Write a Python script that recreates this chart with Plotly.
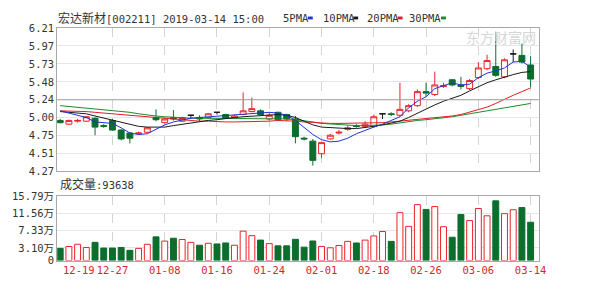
import plotly.graph_objects as go

# ---------------- data ----------------
dates = ["12-19","12-20","12-21","12-24","12-25","12-26","12-27","12-28",
         "01-02","01-03","01-04","01-07","01-08","01-09","01-10","01-11",
         "01-14","01-15","01-16","01-17","01-18","01-21","01-22","01-23",
         "01-24","01-25","01-28","01-29","01-30","01-31","02-01","02-11",
         "02-12","02-13","02-14","02-15","02-18","02-19","02-20","02-21",
         "02-22","02-25","02-26","02-27","02-28","03-01","03-04","03-05",
         "03-06","03-07","03-08","03-11","03-12","03-13","03-14"]

opens  = [4.96,4.91,4.95,4.95,4.99,4.89,4.96,4.83,4.79,4.78,4.80,5.00,4.93,5.00,4.95,5.03,
          5.00,5.00,5.07,5.04,4.99,5.04,5.08,5.09,4.98,5.07,5.04,4.98,4.72,4.68,4.51,4.71,
          4.79,4.84,4.89,4.88,4.88,5.05,5.05,5.03,5.09,5.16,5.35,5.31,5.42,5.51,5.44,5.39,
          5.54,5.66,5.69,5.55,5.86,5.84,5.71]
highs  = [4.98,4.97,4.98,5.02,5.00,4.91,4.98,4.84,4.80,4.81,4.87,5.11,5.00,5.10,5.01,5.03,
          5.03,5.06,5.07,5.05,5.04,5.34,5.27,5.11,5.07,5.08,5.05,5.02,4.74,4.71,4.67,4.78,
          4.83,4.89,4.91,4.95,5.04,5.05,5.07,5.47,5.18,5.38,5.47,5.62,5.47,5.52,5.55,5.52,
          5.75,5.85,6.16,5.80,5.92,6.00,5.83]
lows   = [4.92,4.90,4.93,4.94,4.76,4.86,4.82,4.69,4.65,4.77,4.79,4.95,4.92,4.96,4.94,4.99,
          4.95,4.99,5.04,4.98,4.98,5.03,5.07,5.03,4.96,4.96,4.95,4.65,4.69,4.35,4.45,4.70,
          4.77,4.82,4.86,4.86,4.86,4.98,5.02,5.01,5.07,5.14,5.28,5.29,5.40,5.42,5.38,5.37,
          5.52,5.64,5.55,5.53,5.75,5.73,5.41]
closes = [4.93,4.96,4.96,5.01,4.87,4.88,4.83,4.71,4.72,4.79,4.86,4.97,4.98,4.98,5.00,5.03,
          4.98,5.05,5.07,4.99,5.02,5.09,5.12,5.04,5.03,4.97,4.98,4.74,4.71,4.42,4.66,4.76,
          4.80,4.86,4.88,4.91,5.01,5.05,5.04,5.11,5.16,5.35,5.33,5.44,5.43,5.44,5.42,5.50,
          5.67,5.77,5.57,5.78,5.86,5.75,5.52]
candle_kind = ["dn","up","up","up","dn","dn","dn","dn","dn","up","up","dn","up","dn","up","flat",
               "dn","up","flat","dn","up","up","up","dn","up","dn","dn","dn","dn","dn","up","up",
               "up","up","dn","up","up","flat","dn","up","up","up","dn","up","up","dn","dn","up",
               "up","up","dn","up","flat","dn","dn"]

volumes = [29800,34400,39800,32000,44500,30500,30500,32000,25000,29800,39800,57900,47600,54600,51500,44500,
           37500,42200,40600,43000,37500,71900,60900,50000,41400,35900,35900,52000,32800,47800,34400,31200,
           36800,46900,43000,50000,60200,71000,46900,117000,83600,136700,125000,132000,82800,57000,112500,97700,
           127300,109400,146000,114800,124200,129600,93638]
vol_kind = ["dn","up","up","up","dn","dn","dn","dn","dn","up","up","dn","up","dn","up","up",
            "dn","up","dn","dn","up","up","up","dn","up","dn","dn","dn","dn","dn","up","up",
            "up","up","dn","up","up","up","dn","up","up","up","dn","up","up","dn","dn","up",
            "up","up","dn","up","up","dn","dn"]

ma5  = [5.09,5.06,5.03,5.00,4.94,4.93,4.92,4.86,4.79,4.77,4.78,4.84,4.90,4.94,4.97,4.99,
        5.00,5.01,5.02,5.03,5.03,5.05,5.06,5.07,5.07,5.06,5.03,4.96,4.87,4.77,4.70,4.67,
        4.68,4.72,4.78,4.83,4.87,4.91,4.96,5.01,5.13,5.22,5.28,5.39,5.43,5.47,5.44,5.45,
        5.54,5.60,5.63,5.67,5.75,5.76,5.68]
ma10 = [5.08,5.07,5.06,5.05,5.02,4.99,4.96,4.93,4.90,4.88,4.87,4.87,4.87,4.89,4.91,4.93,
        4.95,4.96,4.97,4.99,5.00,5.01,5.02,5.03,5.04,5.04,5.03,5.00,4.95,4.90,4.87,4.86,
        4.85,4.85,4.85,4.86,4.88,4.90,4.92,4.95,5.00,5.06,5.12,5.17,5.22,5.26,5.30,5.36,
        5.42,5.47,5.51,5.55,5.58,5.61,5.62]
ma20 = [5.09,5.09,5.08,5.08,5.07,5.06,5.05,5.04,5.03,5.01,5.00,4.99,4.98,4.97,4.96,4.96,
        4.95,4.95,4.94,4.94,4.94,4.94,4.94,4.95,4.95,4.96,4.96,4.95,4.94,4.93,4.93,4.92,
        4.92,4.92,4.92,4.92,4.92,4.93,4.94,4.95,4.96,4.97,4.98,4.99,5.00,5.02,5.04,5.07,
        5.10,5.14,5.19,5.25,5.30,5.35,5.40]
ma30 = [5.16,5.15,5.14,5.13,5.12,5.11,5.10,5.08,5.07,5.05,5.03,5.02,5.01,5.00,4.99,4.99,
        4.99,4.99,4.98,4.98,4.98,4.98,4.98,4.98,4.98,4.98,4.98,4.97,4.96,4.94,4.92,4.91,
        4.90,4.89,4.89,4.89,4.89,4.90,4.91,4.93,4.94,4.96,4.97,4.98,4.99,5.01,5.03,5.05,
        5.06,5.09,5.11,5.13,5.15,5.17,5.19]

price_tick_text = ["4.27","4.51","4.75","5.00","5.24","5.48","5.73","5.97","6.21"]
vol_tick_vals = [0, 31000, 73300, 115600, 157900]
vol_tick_text = ["0", "3.10万", "7.33万", "11.56万", "15.79万"]
title_cn = "宏达新材"
title_rest = "[002211] 2019-03-14 15:00"
volume_cn = "成交量"
volume_rest = ":93638"
watermark = "东方财富网"

# ---------------- styling ----------------
W, H = 600, 286
RED = "#e8242a"
GREEN = "#0b6e2c"
BLUE = "#2233d6"
BLACK = "#1a1a1a"
MA20C = "#e02020"
MA30C = "#1d8a2c"
XLAB = "#d9262c"
MONO = "DejaVu Sans Mono, Noto Sans CJK SC, monospace"
CJK = "Noto Sans CJK SC"
FS = 10.5

def px(x):
    return x / W

def py(y):
    return 1 - y / H

def cjk(s, size=12):
    return '<span style="font-family:%s;font-size:%spx">%s</span>' % (CJK, size, s)

x_dom = [px(58), px(546)]
price_dom = [py(172.7), py(23)]
vol_dom = [py(265.7), py(198.3)]
xr = [-0.34, 54.93]
p_lo, p_hi = 4.27, 6.21
price_tick_vals = [p_lo + k * (p_hi - p_lo) / 8 for k in range(9)]

idx = list(range(len(dates)))
fig = go.Figure()

def add_candles(kind, line_color, fill_color):
    keep = [candle_kind[i] == kind for i in idx]
    pick = lambda arr: [v if k else None for v, k in zip(arr, keep)]
    fig.add_trace(go.Candlestick(
        x=idx, open=pick(opens), high=pick(highs), low=pick(lows), close=pick(closes),
        increasing=dict(line=dict(color=line_color, width=1), fillcolor=fill_color),
        decreasing=dict(line=dict(color=line_color, width=1), fillcolor=fill_color),
        whiskerwidth=0, xaxis="x", yaxis="y", hoverinfo="skip"))

add_candles("up", RED, "#ffffff")
add_candles("dn", GREEN, GREEN)
add_candles("flat", BLACK, BLACK)

for vals, col in [(ma30, MA30C), (ma20, MA20C), (ma10, BLACK), (ma5, BLUE)]:
    fig.add_trace(go.Scatter(x=idx, y=vals, mode="lines",
                             line=dict(color=col, width=1), xaxis="x", yaxis="y",
                             hoverinfo="skip"))

fig.add_trace(go.Bar(
    x=idx, y=volumes, xaxis="x2", yaxis="y2",
    marker=dict(color=["#ffffff" if k == "up" else GREEN for k in vol_kind],
                line=dict(color=[RED if k == "up" else GREEN for k in vol_kind], width=1)),
    hoverinfo="skip"))

grid_idx = list(range(6, len(dates), 6))
label_idx = list(range(6, len(dates), 6))   # first label (idx 0) drawn left-aligned below

common_x = dict(range=xr, domain=x_dom, showline=True, mirror=True, linecolor="#a8a8a8",
                linewidth=1, showgrid=False, zeroline=False, fixedrange=True,
                minor=dict(tickmode="array", tickvals=grid_idx, showgrid=True,
                           gridcolor="#d4d4d4", griddash="dash", gridwidth=1, ticks=""))

fig.update_layout(
    width=W, height=H, margin=dict(l=0, r=0, t=0, b=0),
    paper_bgcolor="white", plot_bgcolor="white", showlegend=False,
    bargap=0.32, boxgap=0.32, boxgroupgap=0,
    font=dict(family=MONO, size=FS, color="#333"),
    xaxis=dict(**common_x, anchor="y", showticklabels=False, ticks="",
               rangeslider=dict(visible=False)),
    yaxis=dict(domain=price_dom, range=[p_lo, p_hi], tickmode="array",
               tickvals=price_tick_vals, ticktext=price_tick_text,
               showgrid=True, gridcolor="#e6e6e6", gridwidth=1, zeroline=False,
               showline=True, mirror=True, linecolor="#a8a8a8", ticks="",
               tickfont=dict(size=FS, color="#333"), anchor="x", fixedrange=True),
    xaxis2=dict(**common_x, anchor="y2", tickmode="array", tickvals=label_idx,
                ticktext=[dates[i] for i in label_idx], ticks="",
                tickfont=dict(size=FS, color=XLAB)),
    yaxis2=dict(domain=vol_dom, range=[0, vol_tick_vals[-1]], tickmode="array",
                tickvals=vol_tick_vals, ticktext=vol_tick_text,
                showgrid=True, gridcolor="#e6e6e6", gridwidth=1, zeroline=False,
                showline=True, mirror=True, linecolor="#a8a8a8", ticks="",
                tickfont=dict(size=FS, color="#333"), anchor="x2", fixedrange=True),
)

# first date label, kept inside the panel like the reference
fig.add_annotation(text=dates[0], xref="x2", yref="paper", x=0, y=py(276),
                   xanchor="left", yanchor="middle", xshift=1, showarrow=False,
                   font=dict(size=FS, color=XLAB, family=MONO))

# darker middle line of the price panel
fig.add_shape(type="line", xref="paper", yref="y", x0=x_dom[0], x1=x_dom[1],
              y0=price_tick_vals[4], y1=price_tick_vals[4],
              line=dict(color="#a0a0a0", width=1))

# title and legend
fig.add_annotation(text=cjk(title_cn) + title_rest, xref="paper", yref="paper",
                   x=px(57), y=py(12.5), xanchor="left", yanchor="middle", showarrow=False,
                   font=dict(size=FS, color="#333", family=MONO))
legend_items = [("5PMA", 285, 312, BLUE), ("10PMA", 325, 358, BLACK),
                ("20PMA", 370, 403, MA20C), ("30PMA", 413, 447, MA30C)]
for name, tx, bx, col in legend_items:
    fig.add_annotation(text=name, xref="paper", yref="paper", x=px(tx), y=py(12.5),
                       xanchor="left", yanchor="middle", showarrow=False,
                       font=dict(size=FS, color="#333", family=MONO))
    fig.add_shape(type="rect", xref="paper", yref="paper", x0=px(bx), x1=px(bx + 5),
                  y0=py(14), y1=py(11), line=dict(width=0), fillcolor=col)

# watermark
fig.add_annotation(text=watermark, xref="paper", yref="paper", x=px(545), y=py(32),
                   xanchor="right", yanchor="middle", showarrow=False,
                   font=dict(size=14, color="#d6d6d6", family=CJK))

fig.add_annotation(text=cjk(volume_cn) + volume_rest, xref="paper", yref="paper",
                   x=px(59), y=py(185), xanchor="left", yanchor="middle", showarrow=False,
                   font=dict(size=FS, color="#333", family=MONO))

fig.write_html("out.html",
               post_script="document.body.style.margin='0';document.body.style.overflow='hidden';")
